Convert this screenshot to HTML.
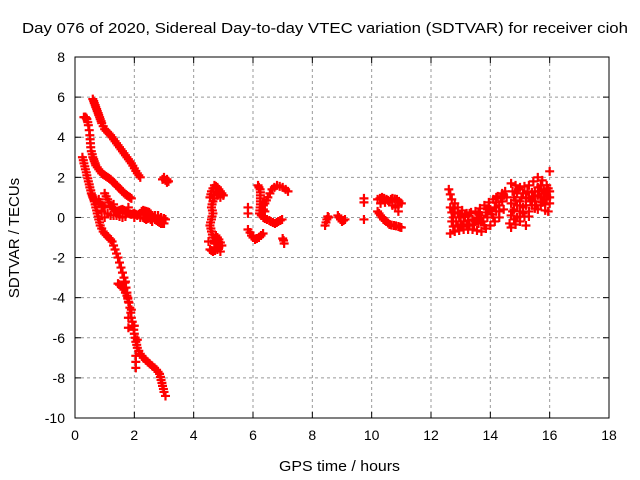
<!DOCTYPE html>
<html><head><meta charset="utf-8">
<style>
body{margin:0;background:#fff;}
svg{display:block;font-family:"Liberation Sans",sans-serif;}
</style></head>
<body>
<svg id="chart" width="640" height="480">
<rect width="640" height="480" fill="#fff"/>
<text x="22" y="33" font-size="15" textLength="606" lengthAdjust="spacingAndGlyphs">Day 076 of 2020, Sidereal Day-to-day VTEC variation (SDTVAR) for receiver cioh</text>
<g id="grid"></g>
<g id="axes"></g>
<g id="marks"></g>
<text x="279" y="471" font-size="15" textLength="121" lengthAdjust="spacingAndGlyphs">GPS time / hours</text>
<text transform="translate(19,238) rotate(-90)" font-size="15" text-anchor="middle">SDTVAR / TECUs</text>
</svg>
<script>
const xTicks=[0,2,4,6,8,10,12,14,16,18];
const yTicks=[8,6,4,2,0,-2,-4,-6,-8,-10];
const trackA=[[0.6,5.9],[0.63,5.8],[0.65,5.7],[0.68,5.6],[0.7,5.5],[0.73,5.4],[0.75,5.3],[0.78,5.2],[0.8,5.1],[0.83,5.0],[0.85,4.9],[0.88,4.8],[0.9,4.7],[0.95,4.55],[1.0,4.4],[1.05,4.32],[1.1,4.25],[1.15,4.18],[1.2,4.1],[1.25,4.0],[1.3,3.9],[1.35,3.8],[1.4,3.7],[1.45,3.6],[1.5,3.5],[1.55,3.4],[1.6,3.3],[1.65,3.2],[1.7,3.1],[1.75,3.0],[1.8,2.9],[1.85,2.8],[1.9,2.7],[1.95,2.58],[2.0,2.45],[2.05,2.32],[2.1,2.2],[2.15,2.1],[2.2,2.0]];
const trackB=[[0.3,5.0],[0.33,5.0],[0.35,5.0],[0.38,4.95],[0.4,4.9],[0.43,4.75],[0.45,4.6],[0.48,4.35],[0.5,4.1],[0.51,3.9],[0.52,3.7],[0.53,3.5],[0.55,3.3],[0.58,3.15],[0.6,3.0],[0.63,2.9],[0.65,2.8],[0.68,2.7],[0.7,2.6],[0.75,2.5],[0.8,2.4],[0.85,2.3],[0.9,2.2],[0.95,2.15],[1.0,2.1],[1.05,2.05],[1.1,2.0],[1.15,1.95],[1.2,1.9],[1.25,1.82],[1.3,1.75],[1.35,1.68],[1.4,1.6],[1.45,1.52],[1.5,1.45],[1.55,1.38],[1.6,1.3],[1.65,1.22],[1.7,1.15],[1.75,1.1],[1.8,1.05],[1.85,1.0],[1.9,0.95]];
const trackC=[[0.25,3.0],[0.28,2.85],[0.3,2.7],[0.33,2.55],[0.35,2.4],[0.38,2.25],[0.4,2.1],[0.43,1.95],[0.45,1.8],[0.48,1.65],[0.5,1.5],[0.53,1.35],[0.55,1.2],[0.58,1.1],[0.6,1.0],[0.63,0.9],[0.65,0.8],[0.68,0.65],[0.7,0.5],[0.73,0.35],[0.75,0.2],[0.78,0.05],[0.8,-0.1],[0.83,-0.25],[0.85,-0.4],[0.9,-0.55],[0.95,-0.7],[1.0,-0.8],[1.05,-0.88],[1.1,-0.95],[1.15,-1.03],[1.2,-1.1],[1.25,-1.2],[1.3,-1.4],[1.35,-1.6],[1.4,-1.8],[1.45,-2.0],[1.5,-2.25],[1.55,-2.5],[1.6,-2.75],[1.65,-3.0],[1.68,-3.25],[1.72,-3.5],[1.75,-3.75],[1.78,-4.0],[1.82,-4.25],[1.85,-4.5],[1.88,-4.75],[1.9,-5.0],[1.93,-5.2],[1.95,-5.4],[1.98,-5.6],[2.0,-5.8],[2.03,-6.0],[2.05,-6.2],[2.08,-6.35],[2.1,-6.5],[2.15,-6.65],[2.2,-6.8],[2.25,-6.9],[2.3,-7.0],[2.38,-7.1],[2.45,-7.2],[2.52,-7.3],[2.6,-7.4],[2.68,-7.5],[2.75,-7.6],[2.8,-7.7],[2.85,-7.8],[2.88,-7.95],[2.9,-8.1],[2.93,-8.25],[2.95,-8.4],[2.98,-8.55],[3.0,-8.7],[3.05,-8.9],[2.05,-6.9],[2.05,-7.2],[2.05,-7.5],[1.8,-5.0],[1.8,-5.5],[1.9,-4.6],[2.0,-5.4],[2.1,-6.1],[1.7,-3.2]];
const trackD=[[1.45,-3.3],[1.5,-3.35],[1.55,-3.4],[1.6,-3.5],[1.65,-3.6],[1.7,-3.75],[1.75,-3.9],[1.78,-4.05],[1.8,-4.2]];
const trackE=[[0.8,0.9],[0.85,0.75],[0.9,0.6],[0.95,0.55],[1.0,0.5],[1.0,1.2],[1.05,1.05],[1.1,0.9],[1.15,0.75],[1.2,0.6],[1.25,0.5],[1.3,0.4],[1.35,0.35],[1.4,0.3],[1.45,0.32],[1.5,0.35],[1.55,0.38],[1.6,0.4],[1.65,0.35],[1.7,0.3],[1.75,0.25],[1.8,0.2],[1.85,0.18],[1.9,0.15],[1.95,0.18],[2.0,0.2],[2.05,0.15],[2.1,0.1],[2.15,0.15],[2.2,0.2],[2.25,0.3],[2.3,0.35],[2.35,0.32],[2.4,0.3],[2.45,0.28],[2.5,0.25],[2.55,0.18],[2.6,0.1],[2.65,0.0],[2.7,-0.1],[2.75,-0.15],[2.8,-0.2],[2.85,-0.25],[2.9,-0.3],[2.95,-0.3],[3.0,-0.3],[2.5,0.0],[2.55,-0.1],[2.6,-0.2],[2.45,-0.05],[2.4,-0.1],[2.35,-0.05],[2.3,0.0],[1.1,0.2],[1.2,0.1],[1.3,0.1],[1.4,0.1],[1.5,0.05],[1.6,0.0],[1.7,0.05],[2.7,0.1],[2.8,0.1],[2.9,0.0],[3.0,-0.05],[3.05,-0.1],[2.95,1.9],[3.05,1.85],[3.1,1.9],[3.15,1.8],[3.0,2.0],[3.1,1.75],[0.9,0.3],[1.0,0.0],[1.3,0.65],[1.8,0.5],[2.0,0.0],[2.2,0.0]];
const cluster5=[[4.55,1.0],[4.58,1.15],[4.6,1.3],[4.65,1.45],[4.7,1.6],[4.75,1.55],[4.8,1.5],[4.85,1.4],[4.9,1.3],[4.95,1.2],[5.0,1.1],[4.8,1.1],[4.7,0.95],[4.65,0.8],[4.62,0.65],[4.6,0.5],[4.63,0.35],[4.65,0.2],[4.62,0.05],[4.6,-0.1],[4.57,-0.25],[4.55,-0.4],[4.58,-0.55],[4.6,-0.7],[4.63,-0.85],[4.65,-1.0],[4.7,-1.15],[4.75,-1.3],[4.8,-1.2],[4.85,-1.1],[4.9,-1.25],[4.95,-1.4],[4.85,-1.5],[4.8,-1.6],[4.72,-1.65],[4.65,-1.7],[4.6,-1.65],[4.55,-1.6],[4.9,-1.7],[4.5,-1.2],[4.75,1.3],[4.7,-1.5],[4.85,1.2],[4.9,1.0],[4.68,1.1],[4.75,-0.9],[4.8,-1.0],[4.7,-1.3]];
const cluster6=[[5.83,0.5],[5.83,0.2],[6.17,1.6],[6.2,1.5],[6.24,1.4],[6.25,1.25],[6.25,1.1],[6.25,0.95],[6.25,0.8],[6.25,0.65],[6.24,0.5],[6.23,0.35],[6.22,0.2],[6.28,0.1],[6.35,0.0],[6.4,-0.05],[6.47,-0.1],[6.55,-0.15],[6.6,-0.2],[6.67,-0.25],[6.74,-0.3],[6.8,-0.25],[6.85,-0.2],[6.92,-0.15],[6.98,-0.1],[6.4,0.7],[6.45,0.85],[6.5,1.0],[6.57,1.2],[6.64,1.4],[6.72,1.5],[6.81,1.6],[6.9,1.55],[7.0,1.5],[7.1,1.4],[7.18,1.3],[6.35,0.4],[6.4,0.3],[6.35,0.6],[5.83,-0.6],[5.9,-0.75],[5.95,-0.9],[6.0,-1.0],[6.07,-1.1],[6.13,-1.05],[6.2,-1.0],[6.27,-0.9],[6.34,-0.8],[7.0,-1.05],[7.05,-1.3],[7.03,-1.15]];
const cluster9=[[8.49,-0.1],[8.43,-0.4],[8.46,-0.25],[8.52,0.05],[8.55,0.0],[8.86,0.1],[8.9,0.0],[8.95,-0.1],[9.0,-0.2],[9.05,-0.15],[9.1,-0.1],[9.74,0.95],[9.74,0.75],[9.74,-0.1],[10.2,0.9],[10.28,0.95],[10.35,1.0],[10.42,0.95],[10.5,0.9],[10.55,0.85],[10.6,0.8],[10.65,0.9],[10.7,0.95],[10.78,0.92],[10.85,0.9],[10.92,0.8],[11.0,0.7],[10.9,0.3],[10.7,0.6],[10.8,0.5],[10.9,0.6],[10.3,0.7],[10.45,0.75],[10.2,0.3],[10.25,0.2],[10.3,0.1],[10.35,0.0],[10.4,-0.1],[10.45,-0.15],[10.5,-0.2],[10.55,-0.28],[10.6,-0.35],[10.67,-0.38],[10.75,-0.4],[10.82,-0.42],[10.9,-0.45],[10.95,-0.48],[11.0,-0.5]];
const cluster13=[[12.6,1.4],[12.65,1.15],[12.7,0.9],[12.8,0.7],[12.9,0.5],[13.05,0.35],[13.2,0.2],[13.35,0.25],[13.5,0.3],[13.65,0.45],[13.8,0.6],[13.95,0.75],[14.1,0.9],[14.25,1.05],[14.4,1.2],[12.7,-0.2],[12.75,-0.45],[12.8,-0.7],[12.95,-0.65],[13.1,-0.6],[13.25,-0.6],[13.4,-0.6],[13.55,-0.65],[13.7,-0.7],[13.85,-0.55],[14.0,-0.4],[14.15,-0.2],[14.3,0.0],[12.8,0.2],[12.95,0.0],[13.1,-0.2],[13.25,-0.15],[13.4,-0.1],[13.55,0.0],[13.7,0.1],[13.85,0.25],[14.0,0.4],[14.15,0.5],[14.3,0.6],[12.65,0.5],[12.7,0.25],[13.0,0.0],[13.0,-0.35],[13.2,-0.35],[13.6,-0.3],[13.45,-0.35],[13.75,-0.2],[13.9,0.0],[14.05,0.15],[14.2,0.3],[14.4,0.8],[14.45,0.4],[13.3,0.2],[12.9,-0.4],[14.5,1.3],[12.65,-0.8],[12.85,-0.2],[13.15,0.1],[13.6,0.2],[14.2,0.75],[14.35,0.95],[13.95,0.5],[14.55,1.0],[12.75,0.45],[12.75,0.0],[12.9,0.25],[13.3,-0.4],[13.5,-0.2],[13.8,-0.4],[14.1,0.0],[14.3,0.3],[14.45,1.1],[14.2,1.0],[13.9,0.4],[13.65,-0.1],[13.05,-0.45]];
const cluster15=[[14.7,1.7],[14.85,1.6],[15.0,1.5],[15.15,1.55],[15.3,1.6],[15.45,1.8],[15.6,2.0],[15.75,1.85],[15.9,1.6],[14.65,-0.3],[14.7,-0.5],[14.85,-0.35],[15.0,-0.2],[15.15,0.05],[15.3,0.3],[15.5,0.45],[15.7,0.6],[15.85,0.65],[16.0,0.7],[14.8,1.0],[14.8,0.4],[14.7,0.7],[14.7,0.1],[15.0,0.8],[15.0,0.3],[15.1,1.2],[15.2,0.6],[15.2,0.95],[15.3,1.0],[15.4,1.25],[15.4,0.6],[15.5,1.3],[15.5,0.8],[15.6,1.1],[15.7,1.0],[15.8,1.4],[15.8,0.9],[15.9,1.1],[16.0,1.0],[16.0,1.3],[14.9,0.0],[15.1,0.2],[15.4,0.9],[15.6,0.4],[15.6,1.5],[15.95,0.3],[14.75,1.3],[14.9,1.2],[16.0,2.3],[15.2,-0.4],[15.1,0.5],[14.9,0.6],[15.3,0.05],[15.85,0.35],[14.85,0.85],[14.95,1.4],[15.05,1.0],[15.25,1.3],[15.35,0.8],[15.45,1.05],[15.55,0.6],[15.65,1.3],[15.75,0.75],[15.9,0.9],[14.8,-0.1],[15.0,0.05],[14.75,0.3],[15.7,1.6],[15.85,1.2],[15.95,1.45]];
const series=[trackA,trackB,trackC,trackD,trackE,cluster5,cluster6,cluster9,cluster13,cluster15];
const X0=75,X1=609,Y0=418,Y1=57;
function sx(v){return X0+(v-0)/(18-0)*(X1-X0);}
function sy(v){return Y0-(v+10)/(18)*(Y0-Y1);}
const NS='http://www.w3.org/2000/svg';
function mk(t,a,p){const e=document.createElementNS(NS,t);for(const k in a)e.setAttribute(k,a[k]);p.appendChild(e);return e;}
const grid=document.getElementById('grid'),axes=document.getElementById('axes'),marks=document.getElementById('marks');
xTicks.forEach(t=>{const x=sx(t);
 if(t>0&&t<18){const g=mk('line',{x1:x,x2:x,y1:Y1,y2:Y0,stroke:'#999','stroke-dasharray':'3,3'},grid);
 
 }
 mk('line',{x1:x,x2:x,y1:Y0,y2:Y0-6,stroke:'#000'},axes);
 mk('line',{x1:x,x2:x,y1:Y1,y2:Y1+6,stroke:'#000'},axes);
 const l=mk('text',{x:x,y:Y0+22,'font-size':14,'text-anchor':'middle'},axes);l.textContent=t;
 
 });
yTicks.forEach(t=>{const y=sy(t);
 if(t>-10&&t<8){const g=mk('line',{x1:X0,x2:X1,y1:y,y2:y,stroke:'#999','stroke-dasharray':'3,3'},grid);
 
 }
 mk('line',{x1:X0,x2:X0+6,y1:y,y2:y,stroke:'#000'},axes);
 mk('line',{x1:X1,x2:X1-6,y1:y,y2:y,stroke:'#000'},axes);
 const l=mk('text',{x:X0-10,y:y+5,'font-size':14,'text-anchor':'end'},axes);l.textContent=t;
 
 });
const fr=mk('rect',{x:X0,y:Y1,width:X1-X0,height:Y0-Y1,fill:'none',stroke:'#000'},axes);


series.forEach(s=>s.forEach(p=>{const x=sx(p[0]),y=sy(p[1]);
 const m=mk('path',{d:`M${x-4.5},${y}H${x+4.5}M${x},${y-4.5}V${y+4.5}`,stroke:'#f00','stroke-width':2.2},marks);
 
 }));
</script>
</body></html>
